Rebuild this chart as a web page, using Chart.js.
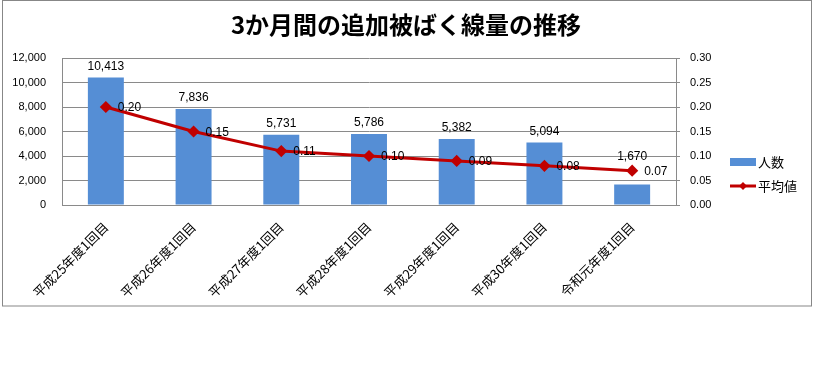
<!DOCTYPE html>
<html><head><meta charset="utf-8">
<script src="https://cdn.jsdelivr.net/npm/chart.js@4"></script>
<style>html,body{margin:0;padding:0;background:#fff}canvas{display:block}</style>
</head><body>
<div style="position:absolute;left:0;top:0;width:813px;height:378px"><canvas id="c" width="813" height="378"></canvas></div>
<script>
const title = '3か月間の追加被ばく線量の推移';
const categories = ['平成25年度1回目','平成26年度1回目','平成27年度1回目','平成28年度1回目','平成29年度1回目','平成30年度1回目','令和元年度1回目'];
const people = [10413, 7836, 5731, 5786, 5382, 5094, 1670];
const average = [0.20, 0.15, 0.11, 0.10, 0.09, 0.08, 0.07];
const seriesNames = ['人数', '平均値'];

const BLUE = '#558ED5', RED = '#C00000', GRID = '#8a8a8a';
const tickFont = {family: 'Liberation Sans', size: 11};
const jp = '"Noto Sans CJK JP"';

const deco = {
  id: 'deco',
  beforeDraw(chart) {
    const ctx = chart.ctx;
    ctx.save();
    ctx.strokeStyle = '#878787'; ctx.lineWidth = 1;
    ctx.strokeRect(2.5, 0.5, 809, 305.5);
    ctx.restore();
  },
  afterDraw(chart) {
    const ctx = chart.ctx;
    ctx.save();
    // title
    ctx.fillStyle = '#000';
    ctx.font = 'bold 24px ' + jp;
    ctx.textAlign = 'center'; ctx.textBaseline = 'middle';
    ctx.fillText(title, 406, 25);
    // data labels
    ctx.font = '12px Liberation Sans';
    const bm = chart.getDatasetMeta(1);
    const lm = chart.getDatasetMeta(0);
    bm.data.forEach((el, i) => {
      ctx.textAlign = 'center'; ctx.textBaseline = 'middle';
      const y = Math.min(el.y - 11, lm.data[i].y - 14);
      ctx.fillText(people[i].toLocaleString('en-US'), el.x, y);
    });
    lm.data.forEach((el, i) => {
      ctx.textAlign = 'left'; ctx.textBaseline = 'middle';
      ctx.fillText(average[i].toFixed(2), el.x + 12, el.y + 1);
    });
    // legend
    ctx.fillStyle = BLUE;
    ctx.fillRect(730, 158, 26, 8);
    ctx.strokeStyle = RED; ctx.lineWidth = 3;
    ctx.beginPath(); ctx.moveTo(730, 186); ctx.lineTo(756, 186); ctx.stroke();
    ctx.fillStyle = RED;
    ctx.beginPath(); ctx.moveTo(743, 182); ctx.lineTo(747, 186); ctx.lineTo(743, 190); ctx.lineTo(739, 186); ctx.closePath(); ctx.fill();
    ctx.fillStyle = '#000';
    ctx.font = '13px ' + jp;
    ctx.textAlign = 'left'; ctx.textBaseline = 'middle';
    ctx.fillText(seriesNames[0], 758, 162);
    ctx.fillText(seriesNames[1], 758, 186);
    ctx.restore();
  }
};

new Chart(document.getElementById('c'), {
  data: {
    labels: categories,
    datasets: [
      {type: 'line', label: seriesNames[1], data: average, yAxisID: 'y1', borderColor: RED, backgroundColor: RED,
       borderWidth: 3, pointStyle: 'rectRot', pointRadius: 4, pointBackgroundColor: RED, pointBorderColor: RED, order: 0, tension: 0},
      {type: 'bar', label: seriesNames[0], data: people, yAxisID: 'y', backgroundColor: BLUE, barPercentage: 0.41, categoryPercentage: 1, order: 1}
    ]
  },
  options: {
    responsive: false, animation: false,
    layout: {padding: {top: 58, left: 0, right: 0, bottom: 0}},
    plugins: {legend: {display: false}, title: {display: false}, tooltip: {enabled: false}},
    scales: {
      x: {
        afterFit: s => { s.height = 173; },
        grid: {display: false},
        border: {color: GRID},
        ticks: {minRotation: 45, maxRotation: 45, padding: 6, color: '#000', font: {family: 'Noto Sans CJK JP', size: 13}}
      },
      y: {
        position: 'left', min: 0, max: 12000,
        afterFit: s => { s.width = 62; },
        grid: {color: GRID, drawTicks: false},
        border: {color: GRID},
        ticks: {stepSize: 2000, padding: 16, color: '#000', font: tickFont, callback: v => v.toLocaleString('en-US')}
      },
      y1: {
        position: 'right', min: 0, max: 0.3,
        afterFit: s => { s.width = 137; },
        grid: {drawOnChartArea: false, color: GRID, tickLength: 4},
        border: {color: GRID},
        ticks: {stepSize: 0.05, padding: 10, color: '#000', font: tickFont, callback: v => v.toFixed(2)}
      }
    }
  },
  plugins: [deco]
});
</script>
</body></html>
